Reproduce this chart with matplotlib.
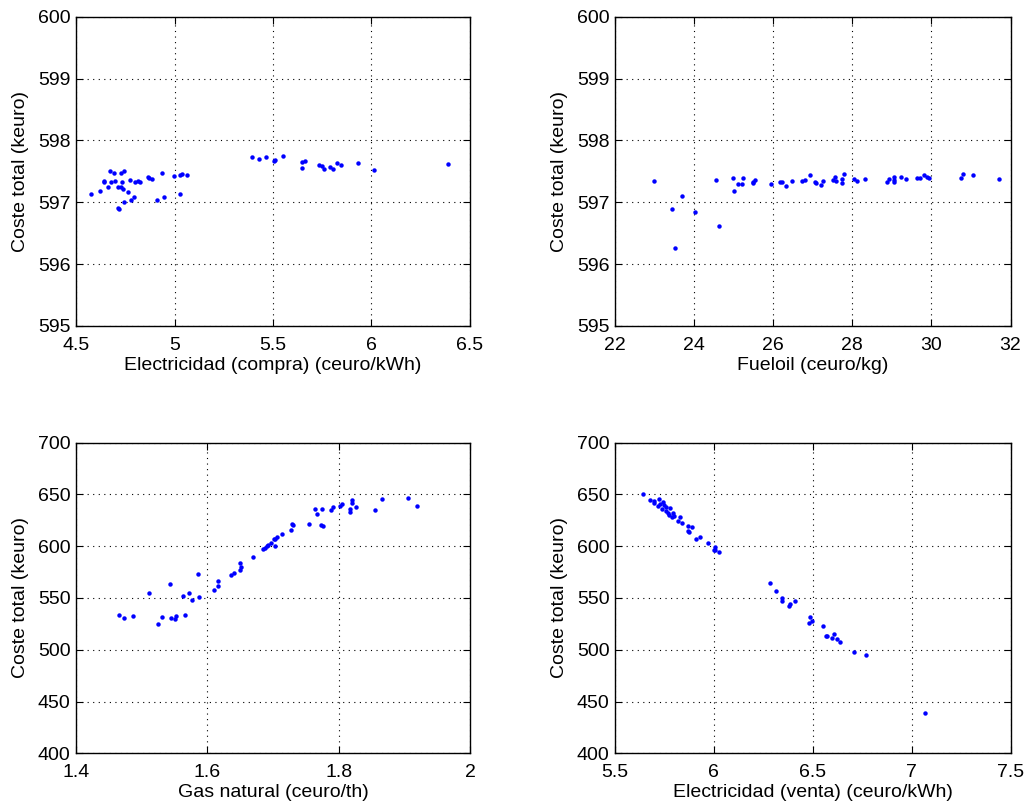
import matplotlib
matplotlib.use("Agg")
import matplotlib.pyplot as plt

plt.rcParams['font.family'] = ['Liberation Sans', 'DejaVu Sans']

# Electricidad (compra) vs coste total
elec_compra = [4.575, 4.622, 4.671, 4.691, 4.642, 4.644, 4.676, 4.662, 4.699, 4.728,
               4.745, 4.732, 4.712, 4.730, 4.739, 4.762, 4.715, 4.717, 4.744, 4.779,
               4.796, 4.774, 4.799, 4.813, 4.826, 4.864, 4.871, 4.887, 4.913, 4.945,
               4.938, 4.997, 5.029, 5.038, 5.063, 5.029, 5.392, 5.430, 5.466, 5.512,
               5.503, 5.549, 5.646, 5.662, 5.646, 5.735, 5.750, 5.759, 5.788, 5.803,
               5.823, 5.845, 5.933, 6.011, 6.390]
coste_compra = [597.13, 597.18, 597.51, 597.48, 597.34, 597.32, 597.32, 597.25, 597.34, 597.47,
                597.50, 597.33, 597.24, 597.25, 597.22, 597.16, 596.91, 596.89, 597.00, 597.04,
                597.09, 597.36, 597.33, 597.34, 597.32, 597.41, 597.39, 597.38, 597.03, 597.09,
                597.47, 597.42, 597.44, 597.45, 597.44, 597.14, 597.74, 597.70, 597.73, 597.68,
                597.67, 597.75, 597.65, 597.67, 597.56, 597.61, 597.58, 597.54, 597.57, 597.53,
                597.64, 597.60, 597.63, 597.52, 597.62]

# Fueloil vs coste total
fueloil = [22.98, 23.69, 23.45, 23.52, 24.03, 24.56, 24.62, 24.99, 25.00, 25.11,
           25.21, 25.24, 25.49, 25.50, 25.54, 25.95, 26.18, 26.23, 26.33, 26.47,
           26.74, 26.80, 26.92, 27.05, 27.08, 27.20, 27.26, 27.50, 27.57, 27.58,
           27.78, 27.75, 27.74, 28.05, 28.12, 28.32, 28.89, 28.93, 29.05, 29.06,
           29.05, 29.24, 29.36, 29.64, 29.72, 29.82, 29.88, 29.95, 30.75, 30.81,
           31.05, 31.70]
coste_fueloil = [597.34, 597.10, 596.89, 596.26, 596.85, 597.36, 596.61, 597.40, 597.18, 597.30,
                 597.30, 597.40, 597.33, 597.31, 597.36, 597.30, 597.33, 597.32, 597.27, 597.34,
                 597.35, 597.36, 597.44, 597.33, 597.31, 597.28, 597.34, 597.36, 597.41, 597.35,
                 597.46, 597.38, 597.31, 597.38, 597.35, 597.38, 597.32, 597.38, 597.41, 597.32,
                 597.36, 597.41, 597.37, 597.40, 597.40, 597.44, 597.41, 597.39, 597.40, 597.46,
                 597.44, 597.37]

# Gas natural vs coste total
gas = [1.465, 1.473, 1.487, 1.511, 1.525, 1.531, 1.543, 1.545, 1.551, 1.553,
       1.563, 1.566, 1.572, 1.577, 1.586, 1.588, 1.610, 1.617, 1.617, 1.636,
       1.640, 1.649, 1.650, 1.652, 1.670, 1.685, 1.688, 1.691, 1.693, 1.697,
       1.702, 1.703, 1.703, 1.706, 1.713, 1.727, 1.729, 1.730, 1.755, 1.764,
       1.767, 1.774, 1.773, 1.776, 1.789, 1.792, 1.802, 1.805, 1.817, 1.818,
       1.820, 1.820, 1.827, 1.856, 1.866, 1.906, 1.919]
coste_gas = [533.6, 530.7, 532.6, 555.1, 525.2, 531.9, 563.5, 530.4, 529.7, 532.6,
             552.2, 533.9, 554.5, 547.8, 573.2, 550.7, 557.4, 566.1, 561.9, 571.9,
             574.1, 577.0, 584.1, 580.2, 589.3, 597.0, 598.3, 600.5, 601.2, 603.4,
             606.7, 600.5, 607.3, 608.6, 612.1, 615.4, 621.5, 620.2, 621.8, 636.3,
             631.1, 636.0, 620.8, 619.5, 635.3, 637.9, 638.9, 640.8, 633.4, 636.3,
             644.7, 642.1, 638.2, 634.7, 645.6, 646.6, 638.9]

# Electricidad (venta) vs coste total
elec_venta = [5.642, 5.679, 5.699, 5.696, 5.721, 5.716, 5.729, 5.743, 5.746, 5.739,
              5.756, 5.777, 5.759, 5.770, 5.773, 5.795, 5.798, 5.788, 5.830, 5.817,
              5.839, 5.869, 5.888, 5.871, 5.874, 5.908, 5.931, 5.972, 6.004, 6.001,
              6.007, 6.027, 6.284, 6.316, 6.343, 6.345, 6.378, 6.383, 6.409, 6.485,
              6.483, 6.498, 6.553, 6.567, 6.572, 6.597, 6.607, 6.623, 6.640, 6.709,
              6.771, 7.069]
coste_venta = [650.7, 644.7, 644.0, 641.8, 645.3, 638.9, 640.8, 642.4, 639.5, 636.3,
               637.6, 637.2, 634.3, 632.1, 630.2, 631.8, 628.9, 628.5, 628.2, 624.1,
               622.1, 619.8, 618.3, 615.0, 613.5, 606.7, 608.6, 602.8, 599.3, 596.4,
               596.4, 594.1, 564.8, 556.5, 550.0, 546.8, 542.6, 543.9, 546.8, 531.6,
               525.5, 527.8, 522.6, 513.6, 513.3, 511.1, 514.9, 510.4, 507.8, 497.8,
               495.2, 438.6]

panels = [
    (elec_compra, coste_compra, "Electricidad (compra) (ceuro/kWh)",
     (4.5, 6.5), [4.5, 5, 5.5, 6, 6.5], ["4.5", "5", "5.5", "6", "6.5"],
     (595, 600), [595, 596, 597, 598, 599, 600]),
    (fueloil, coste_fueloil, "Fueloil (ceuro/kg)",
     (22, 32), [22, 24, 26, 28, 30, 32], ["22", "24", "26", "28", "30", "32"],
     (595, 600), [595, 596, 597, 598, 599, 600]),
    (gas, coste_gas, "Gas natural (ceuro/th)",
     (1.4, 2.0), [1.4, 1.6, 1.8, 2.0], ["1.4", "1.6", "1.8", "2"],
     (400, 700), [400, 450, 500, 550, 600, 650, 700]),
    (elec_venta, coste_venta, "Electricidad (venta) (ceuro/kWh)",
     (5.5, 7.5), [5.5, 6, 6.5, 7, 7.5], ["5.5", "6", "6.5", "7", "7.5"],
     (400, 700), [400, 450, 500, 550, 600, 650, 700]),
]

W, H = 1031, 809
fig = plt.figure(figsize=(W / 100, H / 100), dpi=100)

boxes = [
    (76, 16.7, 470, 326),
    (615, 16.7, 1010.5, 326),
    (76, 442.7, 470, 753.3),
    (615, 442.7, 1010.5, 753.3),
]

for (x, y, xlabel, xlim, xt, xtl, ylim, yt), (l, t, r, b) in zip(panels, boxes):
    ax = fig.add_axes([l / W, 1 - b / H, (r - l) / W, (b - t) / H])
    ax.plot(x, y, linestyle="none", marker="o", markersize=3.2,
            markeredgewidth=0, color=(0, 0, 1))
    ax.set_xlim(*xlim)
    ax.set_ylim(*ylim)
    ax.set_xticks(xt)
    ax.set_xticklabels(xtl)
    ax.set_yticks(yt)
    ax.set_yticklabels([str(v) for v in yt])
    ax.grid(True, linestyle=(0, (1, 4)), linewidth=0.8, color="black")
    ax.tick_params(direction="in", top=True, right=True, length=5, width=0.8,
                   labelsize=14)
    ax.tick_params(axis="x", pad=8)
    ax.tick_params(axis="y", pad=4)
    for s in ax.spines.values():
        s.set_linewidth(1.0)
    ax.set_xlabel(xlabel, fontsize=14, labelpad=2)
    ax.set_ylabel("Coste total (keuro)", fontsize=14, labelpad=6)

fig.savefig("out.png", dpi=100)
